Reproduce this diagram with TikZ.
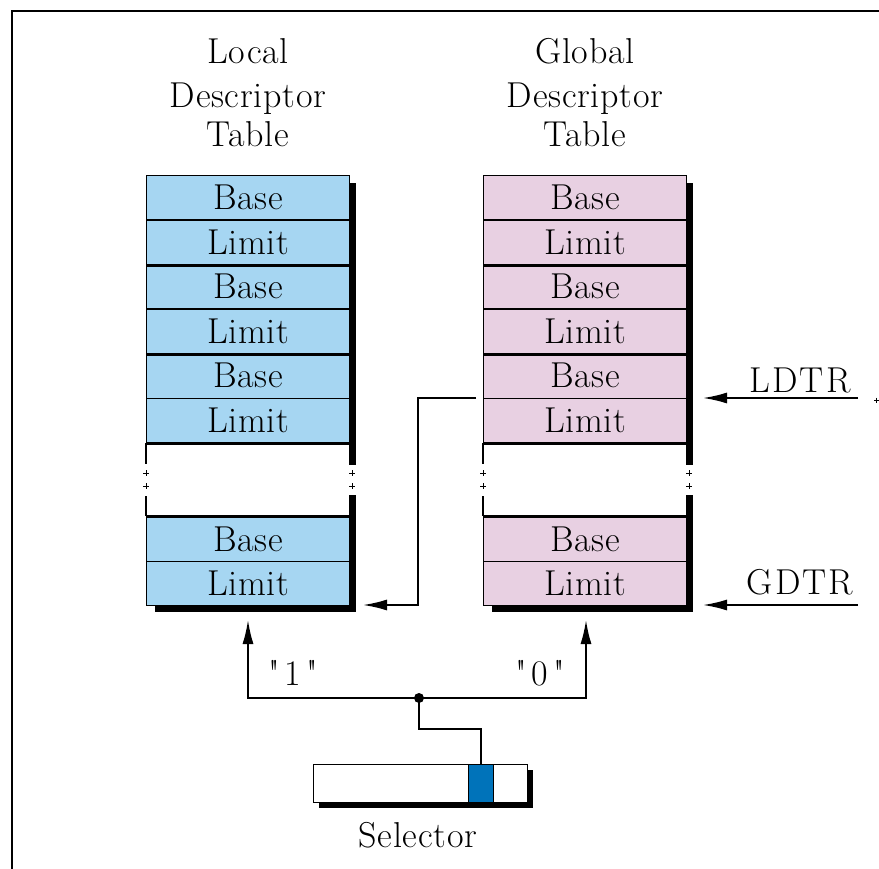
\documentclass[tikz,border=0pt]{standalone}
\usepackage{fontspec}
\setmainfont{Latin Modern Roman}[LetterSpace=2]
\newfontfamily\widefont{Latin Modern Roman}[LetterSpace=6]
\newfontfamily\quotefont{Latin Modern Roman}[LetterSpace=14]
\usetikzlibrary{arrows.meta}
\definecolor{ldtblue}{RGB}{166,214,242}
\definecolor{gdtpink}{RGB}{232,208,226}
\definecolor{selblue}{RGB}{0,115,186}
\tikzset{
  big/.style={font=\fontsize{36}{42}\selectfont},
  row/.style={draw=black, line width=1.2pt, minimum width=203pt, minimum height=44.5pt,
              inner sep=0pt, big, anchor=north west},
  lbl/.style={big, inner sep=0pt},
  ttl/.style={big, inner sep=0pt, anchor=base},
  conn/.style={line width=1.8pt},
  arr/.style={conn, -{Latex[length=24pt,width=11pt]}},
  sepline/.style={line width=3pt},
  gapmark/.style={line width=1pt},
}
\begin{document}
\begin{tikzpicture}[x=1pt,y=-1pt]
\useasboundingbox (0,0) rectangle (879,869);
% frame
\draw[line width=2.5pt] (12,869) -- (12,11) -- (879,11);

% titles
\node[ttl] (lt1) at (248,64) {Local};
\node[ttl] (lt2) at (248,108) {Descriptor};
\node[ttl] (lt3) at (248,147) {Table};
\node[ttl] (gt1) at (585,64) {Global};
\node[ttl] (gt2) at (585,108) {Descriptor};
\node[ttl] (gt3) at (585,147) {Table};

% tables
\foreach \X/\p/\c in {146/L/ldtblue, 483/G/gdtpink} {
  \fill[black] (\X+203,183) rectangle (\X+210,465);
  \fill[black] (\X+203,495) rectangle (\X+210,612);
  \fill[black] (\X+9,603) rectangle (\X+210,612);
  \foreach \i/\t in {0/Base,1/Limit,2/Base,3/Limit,4/Base,5/Limit} {
    \node[row, fill=\c] (\p\i) at (\X,175+44.5*\i) {\t};
  }
  \node[row, fill=\c] (\p6) at (\X,516) {Base};
  \node[row, fill=\c] (\p7) at (\X,560.5) {Limit};
  \draw[sepline] (\p1.south west) -- (\p1.south east);
  \draw[sepline] (\p3.south west) -- (\p3.south east);
  \draw[sepline] (\p5.south west) -- (\p5.south east);
  \draw[sepline] (\p6.north west) -- (\p6.north east);
  \draw[line width=1.2pt] (\p5.south west) -- ++(0,21);
  \draw[line width=1.2pt] (\p6.north west) -- ++(0,-20);
  \foreach \yy in {473,486} {
    \draw[gapmark] (\X-3,\yy) -- (\X+3,\yy) (\X,\yy-3) -- (\X,\yy+3);
    \draw[gapmark] (\X+203,\yy) -- (\X+209,\yy) (\X+206,\yy-3) -- (\X+206,\yy+3);
  }
}

% register labels and arrows
\node[lbl] (ldtr) at (800,380) {\widefont LDTR};
\node[lbl] (gdtr) at (800,582) {\widefont GDTR};
\coordinate (ldtrs) at (858,398);
\coordinate (ldtrt) at (703,398);
\coordinate (gdtrs) at (858,605);
\coordinate (gdtrt) at (703,605);
\draw[arr] (ldtrs) -- (ldtrt);
\draw[arr] (gdtrs) -- (gdtrt);
\draw[gapmark] (874,400) -- (879,400) (876.5,397.5) -- (876.5,402.5);

% GDT entry to LDT
\coordinate (gl1) at (476,398);
\coordinate (gl2) at (418,398);
\coordinate (gl3) at (418,605);
\coordinate (gl4) at (363,605);
\draw[arr] (gl1) -- (gl2) -- (gl3) -- (gl4);

% selector
\fill[black] (319,770) rectangle (533,808);
\node[draw, line width=1.2pt, fill=white, minimum width=214pt, minimum height=38pt,
      inner sep=0pt, anchor=north west] (sel) at (313,764) {};
\node[draw, line width=1.2pt, fill=selblue, minimum width=25pt, minimum height=38pt,
      inner sep=0pt, anchor=north west] (bit) at (468,764) {};
\node[lbl] (sellbl) at (418,835) {Selector};

% TI selection
\coordinate (jn) at (419,698);
\coordinate (jl) at (248,698);
\coordinate (jr) at (586,698);
\coordinate (tl) at (248,620);
\coordinate (tr) at (586,620);
\coordinate (jd) at (419,729);
\draw[conn] (bit.north) |- (jd) -- (jn);
\draw[arr] (jn) -- (jl) -- (tl);
\draw[arr] (jn) -- (jr) -- (tr);
\fill (jn) circle (5pt);
\node[lbl] (one) at (293,673) {\quotefont "1"};
\node[lbl] (zero) at (540,673) {\quotefont "0"};
\end{tikzpicture}
\end{document}
